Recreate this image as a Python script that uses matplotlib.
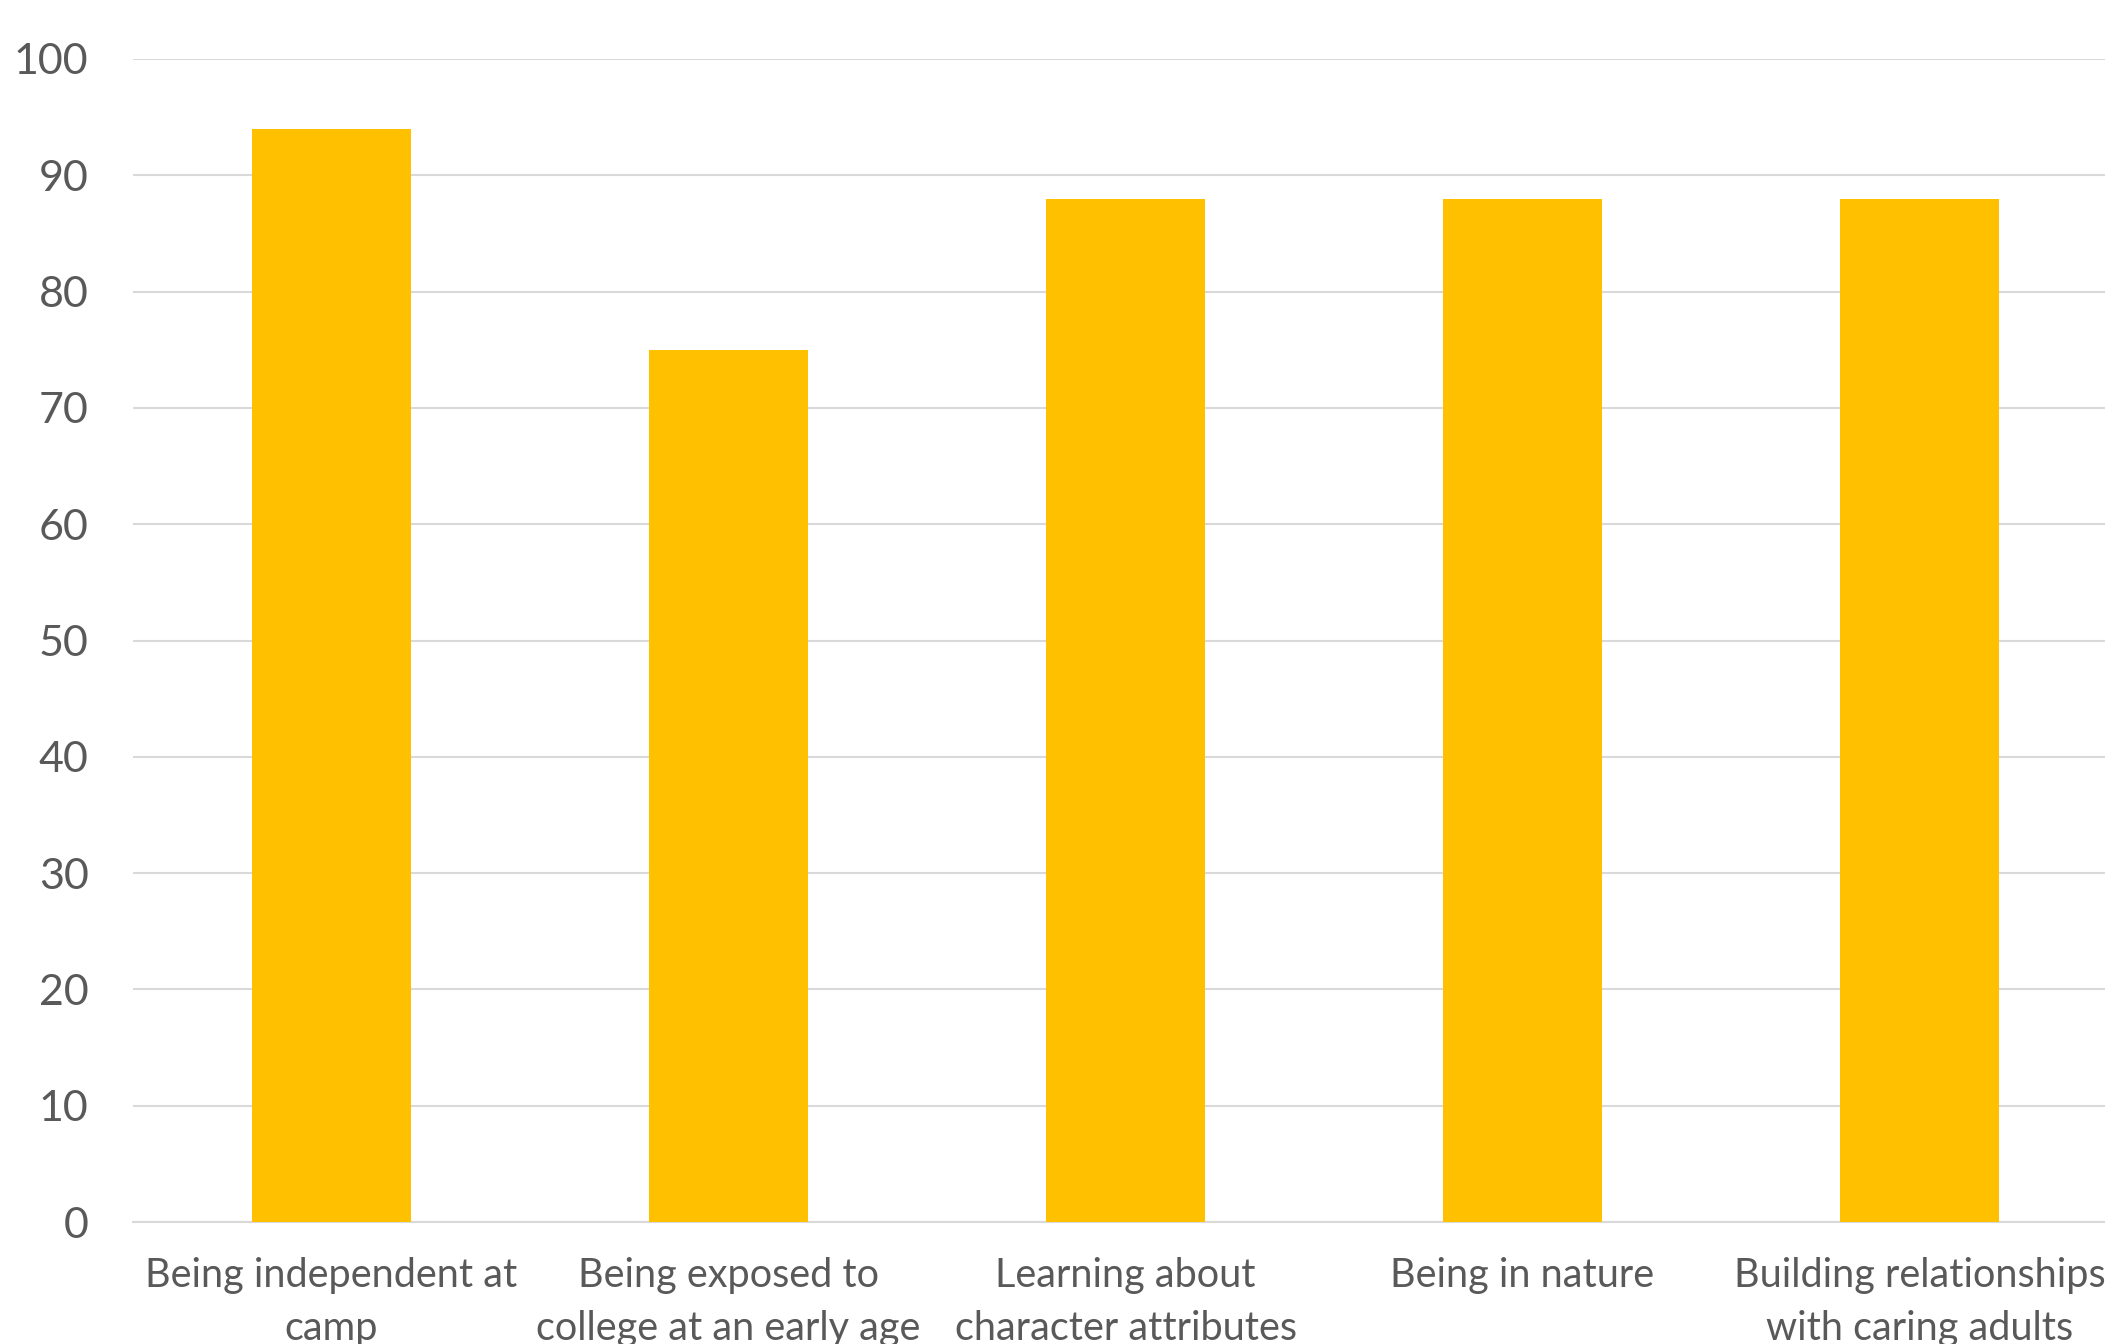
import matplotlib
matplotlib.use("Agg")
import matplotlib.pyplot as plt

categories = ["Being independent at\ncamp",
              "Being exposed to\ncollege at an early age",
              "Learning about\ncharacter attributes",
              "Being in nature",
              "Building relationships\nwith caring adults"]
values = [94, 75, 88, 88, 88]
yticks = [0, 10, 20, 30, 40, 50, 60, 70, 80, 90, 100]

plt.rcParams['font.family'] = ['Lato', 'DejaVu Sans']

fig = plt.figure(figsize=(21.05, 13.44), dpi=100)
ax = fig.add_axes([133/2105, 122/1344, 1985/2105, 1163/1344])

x = list(range(len(categories)))
ax.bar(x, values, width=0.4, color='#FFC000', zorder=3)
ax.set_xlim(-0.5, len(categories) - 0.5)
ax.set_ylim(0, 100)
ax.set_yticks(yticks)
ax.set_yticklabels([str(t) for t in yticks])
ax.set_xticks(x)
ax.set_xticklabels(categories, linespacing=1.55)

ax.grid(axis='y', color='#D9D9D9', linewidth=1.5, zorder=0)
for s in ['top', 'right', 'left']:
    ax.spines[s].set_visible(False)
ax.spines['bottom'].set_color('#D9D9D9')
ax.spines['bottom'].set_linewidth(1.5)
ax.tick_params(axis='y', length=0, pad=32, labelsize=31, labelcolor='#595959')
ax.tick_params(axis='x', length=0, pad=25, labelsize=28.5, labelcolor='#595959')

fig.savefig('out.png', dpi=100)
